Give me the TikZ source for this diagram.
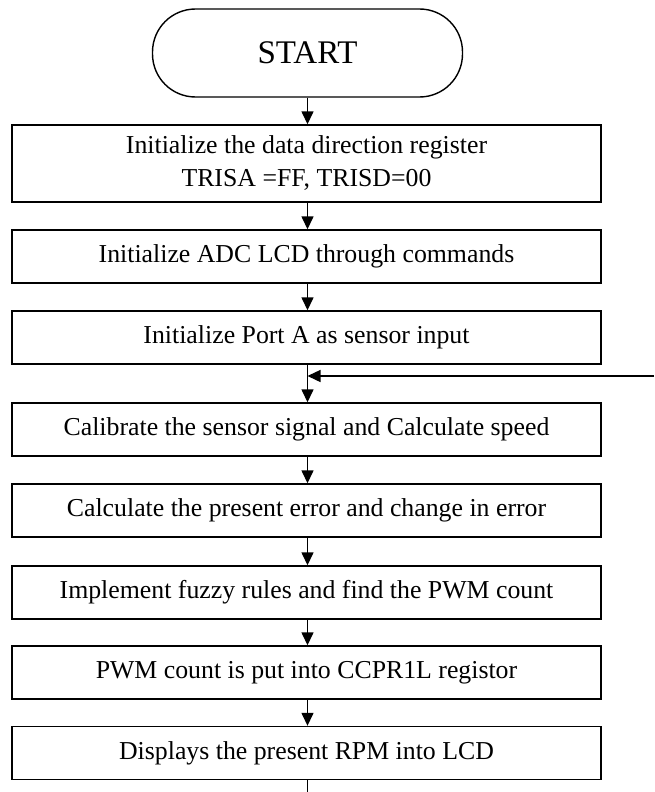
\documentclass[tikz,border=0pt]{standalone}
\usepackage{fontspec}
\setmainfont{Liberation Serif}
\usetikzlibrary{arrows.meta}
\begin{document}
\begin{tikzpicture}[x=1pt,y=-1pt,
  flowbox/.style={draw,line width=1.4pt,minimum width=589pt,minimum height=53pt,
    inner sep=0pt,align=center,font=\fontsize{25.8}{33}\selectfont},
  termbox/.style={draw,line width=1.4pt,minimum width=310pt,minimum height=88pt,
    rounded corners=43pt,inner sep=0pt,font=\fontsize{33}{38}\selectfont},
  flowarrow/.style={line width=1.4pt,-{Triangle[length=13pt,width=12pt]}},
  flowline/.style={line width=1.4pt}]
\useasboundingbox (0,0) rectangle (654,792);
\node[termbox] (start) at (307.5,53) {START};
\node[flowbox,minimum height=77pt] (b1) at (306.5,163.5) {Initialize the data direction register\\TRISA =FF, TRISD=00};
\node[flowbox] (b2) at (306.5,256.5) {Initialize ADC LCD through commands};
\node[flowbox] (b3) at (306.5,337.5) {Initialize Port A as sensor input};
\node[flowbox] (b4) at (306.5,429.5) {Calibrate the sensor signal and Calculate speed};
\node[flowbox] (b5) at (306.5,510.5) {Calculate the present error and change in error};
\node[flowbox] (b6) at (306.5,592.5) {Implement fuzzy rules and find the PWM count};
\node[flowbox] (b7) at (306.5,672.5) {PWM count is put into CCPR1L registor};
\node[flowbox] (b8) at (306.5,753) {Displays the present RPM into LCD};
\coordinate (endpt) at (307.5,792);
\coordinate (fbR) at (654,376);
\coordinate (fbL) at (307.5,376);
\draw[flowarrow] (start.south) -- (start.south |- b1.north);
\draw[flowarrow] ([xshift=1pt]b1.south) -- ([xshift=1pt]b2.north);
\draw[flowarrow] ([xshift=1pt]b2.south) -- ([xshift=1pt]b3.north);
\draw[flowarrow] ([xshift=1pt]b3.south) -- ([xshift=1pt]b4.north);
\draw[flowarrow] ([xshift=1pt]b4.south) -- ([xshift=1pt]b5.north);
\draw[flowarrow] ([xshift=1pt]b5.south) -- ([xshift=1pt]b6.north);
\draw[flowarrow] ([xshift=1pt]b6.south) -- ([xshift=1pt]b7.north);
\draw[flowarrow] ([xshift=1pt]b7.south) -- ([xshift=1pt]b8.north);
\draw[flowline] ([xshift=1pt]b8.south) -- (endpt);
\draw[flowarrow] (fbR) -- (fbL);
\end{tikzpicture}
\end{document}
